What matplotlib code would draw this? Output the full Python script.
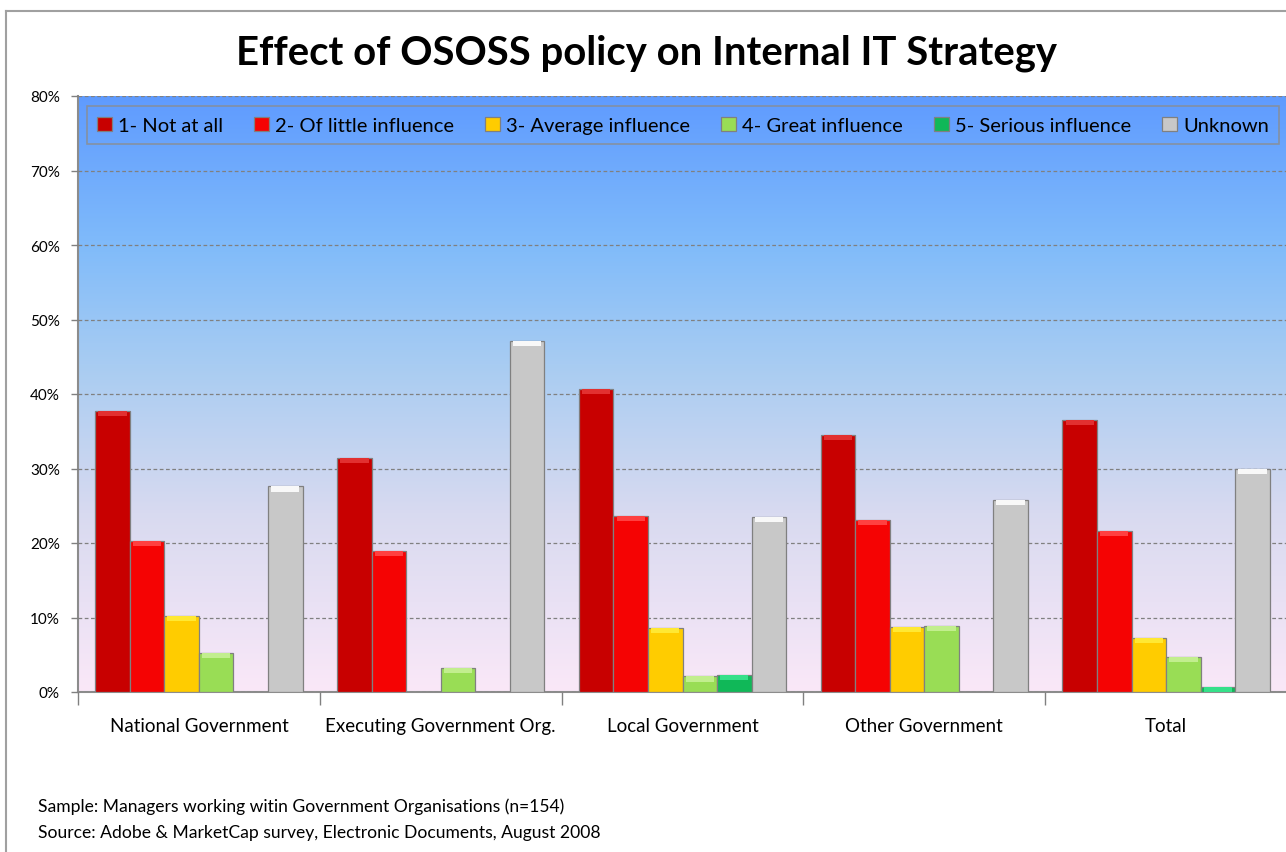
import matplotlib
matplotlib.use("Agg")
import matplotlib.pyplot as plt
from matplotlib.colors import LinearSegmentedColormap
from matplotlib.lines import Line2D
import numpy as np

plt.rcParams['font.family'] = ['Lato', 'DejaVu Sans']

# data (percent)
categories = ["National Government", "Executing Government Org.", "Local Government",
              "Other Government", "Total"]
series = ["1- Not at all", "2- Of little influence", "3- Average influence",
          "4- Great influence", "5- Serious influence", "Unknown"]
not_at_all = [37.7, 31.4, 40.7, 34.5, 36.5]
little = [20.3, 18.9, 23.6, 23.1, 21.6]
average = [10.2, 0.0, 8.6, 8.7, 7.3]
great = [5.2, 3.2, 2.1, 8.9, 4.7]
serious = [0.0, 0.0, 2.3, 0.0, 0.7]
unknown = [27.6, 47.1, 23.5, 25.8, 29.9]
values = [not_at_all, little, average, great, serious, unknown]

colors = ["#C80000", "#F50303", "#FFCC00", "#99DD55", "#10B858", "#C8C8C8"]
caps = ["#E23030", "#FF4040", "#FFE833", "#C2EE8E", "#36E08A", "#F8F8F8"]

fig = plt.figure(figsize=(12.86, 8.53), dpi=100)
ax = fig.add_axes([78 / 1286, 160 / 853, 1209 / 1286, 596 / 853])

# background gradient
cmap = LinearSegmentedColormap.from_list("bg", [
    (0.0, "#FAE8F8"), (0.3, "#D8DAF0"), (0.55, "#A8CCF2"),
    (0.75, "#80BBFA"), (1.0, "#5F9BFF")])
grad = np.linspace(0, 1, 256).reshape(-1, 1)
ax.imshow(grad, cmap=cmap, origin="lower", aspect="auto",
          extent=[-0.5, 4.5, 0, 80], zorder=0)

x = np.arange(len(categories))
w = 1 / 7
for k, (vals, c, cc) in enumerate(zip(values, colors, caps)):
    pos = x + (k - 2.5) * w
    v = np.array(vals)
    m = v > 0
    ax.bar(pos[m], v[m], width=w, color=c, edgecolor="#808080",
           linewidth=0.9, zorder=3, label=series[k])
    cap = np.minimum(v[m], 0.7)
    ax.bar(pos[m], cap, bottom=v[m] - cap, width=w * 0.82, color=cc,
           linewidth=0, zorder=4)

ax.set_xlim(-0.5, 4.5)
ax.set_ylim(0, 80)
ax.set_yticks(np.arange(0, 81, 10))
ax.set_yticklabels([f"{t}%" for t in range(0, 81, 10)], fontsize=11)
ax.yaxis.grid(True, color="#808080", linestyle=(0, (3, 2)), linewidth=0.9)
ax.set_axisbelow(False)
for gl in ax.get_ygridlines():
    gl.set_zorder(1)

ax.set_xticks(x)
ax.set_xticklabels(categories, fontsize=13.5)
ax.set_xticks(np.arange(-0.5, 5, 1), minor=True)
ax.tick_params(axis="x", which="major", length=0, pad=18)
ax.tick_params(axis="x", which="minor", length=9, color="#808080", width=1)
ax.tick_params(axis="y", length=5, color="#808080", width=1, pad=8)

for s in ["top", "right"]:
    ax.spines[s].set_visible(False)
for s in ["left", "bottom"]:
    ax.spines[s].set_color("#8C8C8C")
    ax.spines[s].set_linewidth(1.5)

handles, labels = ax.get_legend_handles_labels()
leg = ax.legend(handles, labels, loc="center", ncol=6, mode="expand",
                bbox_to_anchor=(0.0074, 0.918, 0.986, 0.066),
                fontsize=14.5, frameon=True, fancybox=False,
                handlelength=0.75, handleheight=0.75, handletextpad=0.3,
                columnspacing=0.6, borderpad=0.5, borderaxespad=0)
leg.get_frame().set_edgecolor("#8C8C8C")
leg.get_frame().set_facecolor("none")
leg.get_frame().set_linewidth(1.2)

fig.text(647 / 1286, 1 - 53 / 853, "Effect of OSOSS policy on Internal IT Strategy",
         ha="center", va="center", fontsize=28.8, fontweight="bold")
fig.text(38 / 1286, 1 - 807 / 853,
         "Sample: Managers working witin Government Organisations (n=154)",
         ha="left", va="center", fontsize=12.6)
fig.text(38 / 1286, 1 - 833 / 853,
         "Source: Adobe & MarketCap survey, Electronic Documents, August 2008",
         ha="left", va="center", fontsize=12.6)

# outer chart border (top and left edges visible)
fig.add_artist(Line2D([6 / 1286, 6 / 1286], [0, 1 - 12 / 853],
                      transform=fig.transFigure, color="#A0A0A0", linewidth=1.5))
fig.add_artist(Line2D([6 / 1286, 1], [1 - 12 / 853, 1 - 12 / 853],
                      transform=fig.transFigure, color="#A0A0A0", linewidth=1.5))

fig.savefig("out.png", dpi=100)
